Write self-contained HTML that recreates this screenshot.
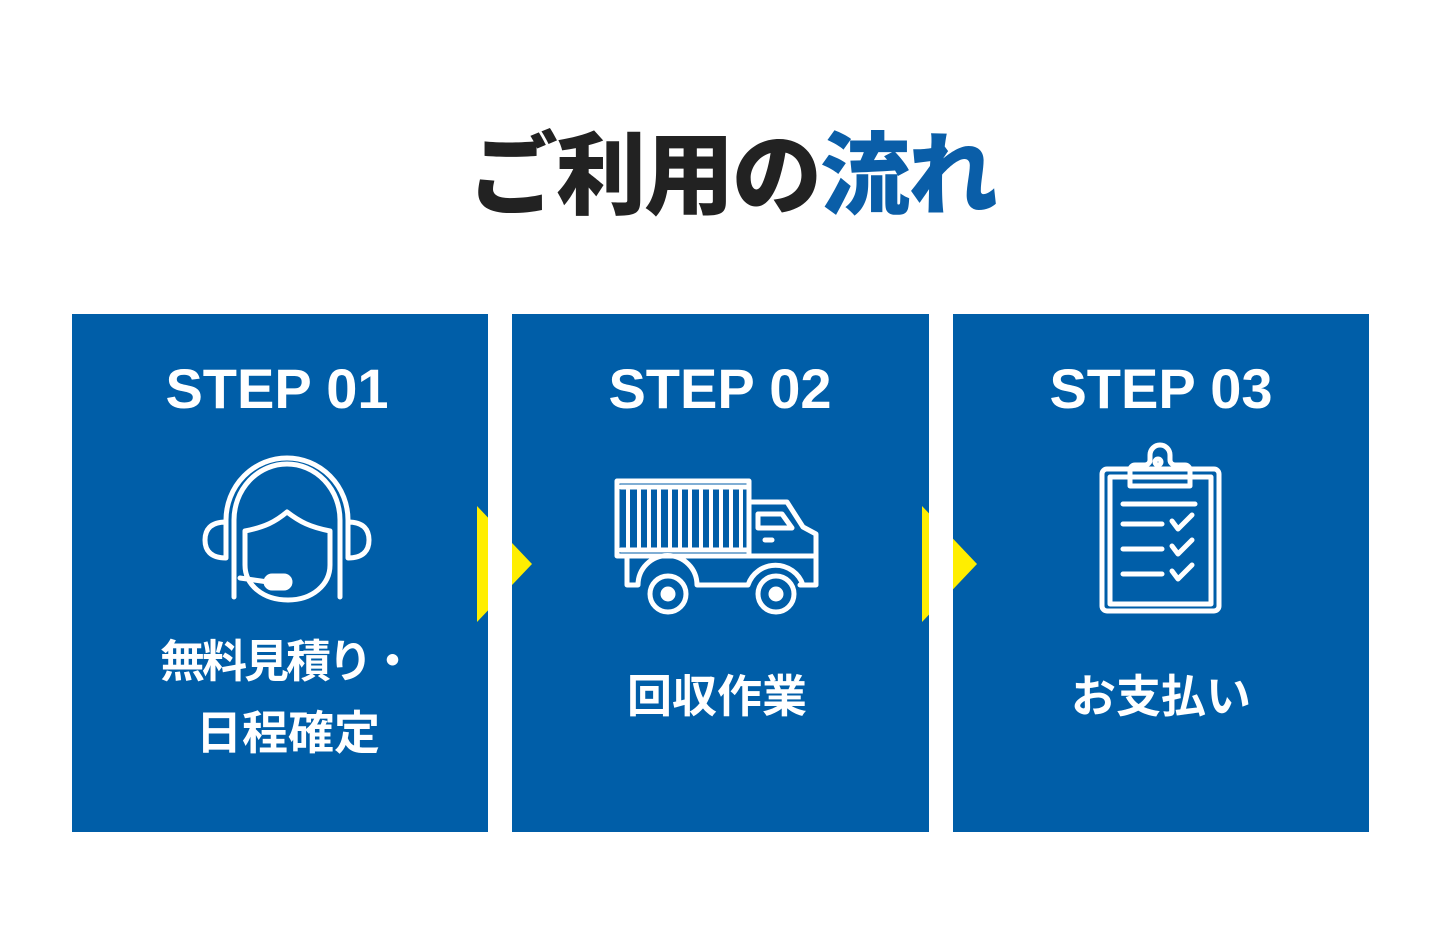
<!DOCTYPE html>
<html><head><meta charset="utf-8"><style>
body{margin:0;background:#fff;}
</style></head><body>
<svg width="1438" height="930" viewBox="0 0 1438 930" xmlns="http://www.w3.org/2000/svg" style="display:block">
<rect width="1438" height="930" fill="#fff"/>
<text x="732" y="207" text-anchor="middle" font-family="'Liberation Sans','Noto Sans CJK JP',sans-serif" font-weight="900" font-size="90" letter-spacing="-2"><tspan fill="#222">ご利用の</tspan><tspan fill="#0a5ea8">流れ</tspan></text>
<g fill="#005ea8">
<rect x="72" y="314" width="416" height="518"/>
<rect x="512" y="314" width="417" height="518"/>
<rect x="953" y="314" width="416" height="518"/>
</g>
<polygon points="477,506 532,564 477,622" fill="#ffee00"/>
<polygon points="922,506 977,564 922,622" fill="#ffee00"/>
<rect x="488" y="506" width="24" height="118" fill="#fff"/>
<rect x="929" y="506" width="24" height="118" fill="#fff"/>
<g font-family="'Liberation Sans','Noto Sans CJK JP',sans-serif" font-weight="700" fill="#fff" text-anchor="middle">
<text x="277" y="408" font-size="56">STEP 01</text>
<text x="720" y="408" font-size="56">STEP 02</text>
<text x="1161" y="408" font-size="56">STEP 03</text>
<text x="286" y="677" font-size="45" letter-spacing="-3">無料見積り・</text>
<text x="288" y="749" font-size="46">日程確定</text>
<text x="717" y="712" font-size="45">回収作業</text>
<text x="1161" y="712" font-size="45">お支払い</text>
</g>
<g fill="none" stroke="#fff" stroke-width="5" stroke-linecap="round" stroke-linejoin="round">
<!-- headset -->
<path d="M234,597 V520 A53,56 0 0 1 340,520 V597"/>
<path d="M226,556 V520 A61,62 0 0 1 348,520 V556"/>
<path d="M226,522 C210,522 205,530 205,540 C205,550 210,558 226,558 Z"/>
<path d="M348,522 C364,522 369,530 369,540 C369,550 364,558 348,558 Z"/>
<path d="M245,531 C265,527 275,522 287,512 C300,522 310,527 330,531 V565 C330,585 312,600 288,600 C263,600 245,585 245,565 Z"/>
<path d="M240,578 L268,582"/>
<rect x="266" y="576" width="24" height="12" rx="6" fill="#fff"/>
<!-- truck -->
<rect x="617" y="481" width="132" height="75"/>
<path d="M621,487 H747 M621,550 H747"/>
<path d="M628,490 V548 M639,490 V548 M649,490 V548 M659,490 V548 M670,490 V548 M680,490 V548 M690,490 V548 M701,490 V548 M711,490 V548 M721,490 V548 M731,490 V548 M741,490 V548" stroke-width="4"/>
<path d="M749,502 L787,502 L803,527 L816,534 V585 H800 M749,556 H816"/>
<path d="M627,556 V585 H638 A29,29 0 0 1 697,585 H748 A29,29 0 0 1 803,585"/>
<path d="M758,514 H782 L792,528 H758 Z"/>
<path d="M765,540 H772"/>
<circle cx="668" cy="594" r="18"/>
<circle cx="776" cy="594" r="18"/>
<circle cx="668" cy="594" r="5" fill="#fff"/>
<circle cx="776" cy="594" r="5" fill="#fff"/>
<!-- clipboard -->
<rect x="1102" y="469" width="117" height="142" rx="5"/>
<rect x="1110" y="477" width="101" height="127"/>
<path d="M1130,486 V470 A5,5 0 0 1 1135,465 H1145 A5,5 0 0 0 1150,460 V455 A7,7 0 0 1 1170,455 V460 A5,5 0 0 0 1175,465 H1185 A5,5 0 0 1 1190,470 V486 Z"/>
<circle cx="1158" cy="462" r="3"/>
<path d="M1123,504 H1195 M1123,524 H1162 M1123,549 H1162 M1123,574 H1162"/>
<path d="M1172,521 L1178,529 L1192,515 M1172,546 L1178,554 L1192,540 M1172,571 L1178,579 L1192,565"/>
</g>
</svg>
</body></html>
